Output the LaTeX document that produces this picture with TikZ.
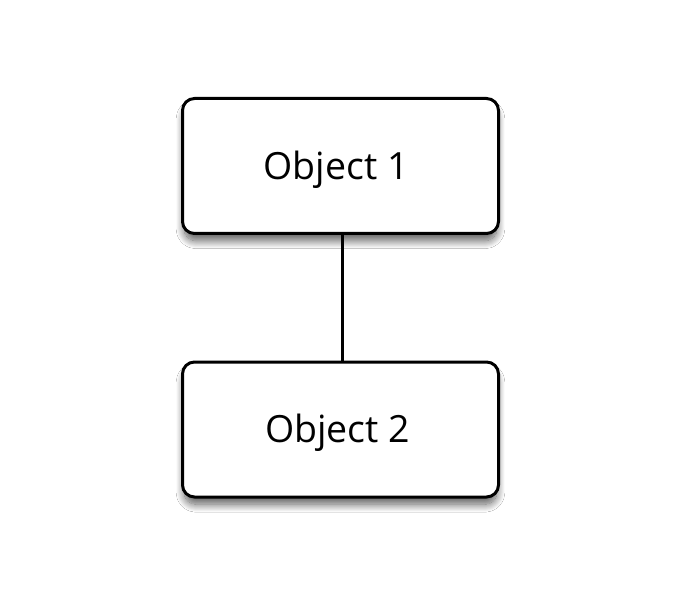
\documentclass[tikz,border=0pt]{standalone}
\usepackage{fontspec}
\setmainfont{Open Sans}
\usetikzlibrary{shadows.blur}
% label text with its cap height centred on the node centre
\newcommand{\objlabel}[2]{\raisebox{-13.3pt}[0pt][0pt]{\hspace*{#1}#2}}
\begin{document}
\begin{tikzpicture}[x=1pt,y=-1pt,
  objbox/.style={draw=black, line width=3pt, fill=white, rounded corners=12pt,
    minimum width=316pt, minimum height=135pt, inner sep=0pt,
    font=\fontsize{37.5}{40}\selectfont,
    blur shadow={shadow xshift=0pt, shadow yshift=-8pt, shadow blur radius=8pt,
      shadow blur steps=16, shadow opacity=65, shadow scale=0.99}},
  link/.style={draw=black, line width=3pt}]
  % canvas
  \path[use as bounding box, fill=white] (0,0) rectangle (680,596);
  % objects
  \node[objbox] (obj1) at (340.5,166) {\objlabel{-9pt}{Object 1}};
  \node[objbox] (obj2) at (340.5,429.5) {\objlabel{-6pt}{Object 2}};
  % connector
  \draw[link] ([xshift=1.5pt]obj1.south) -- ([xshift=1.5pt]obj2.north);
\end{tikzpicture}
\end{document}
